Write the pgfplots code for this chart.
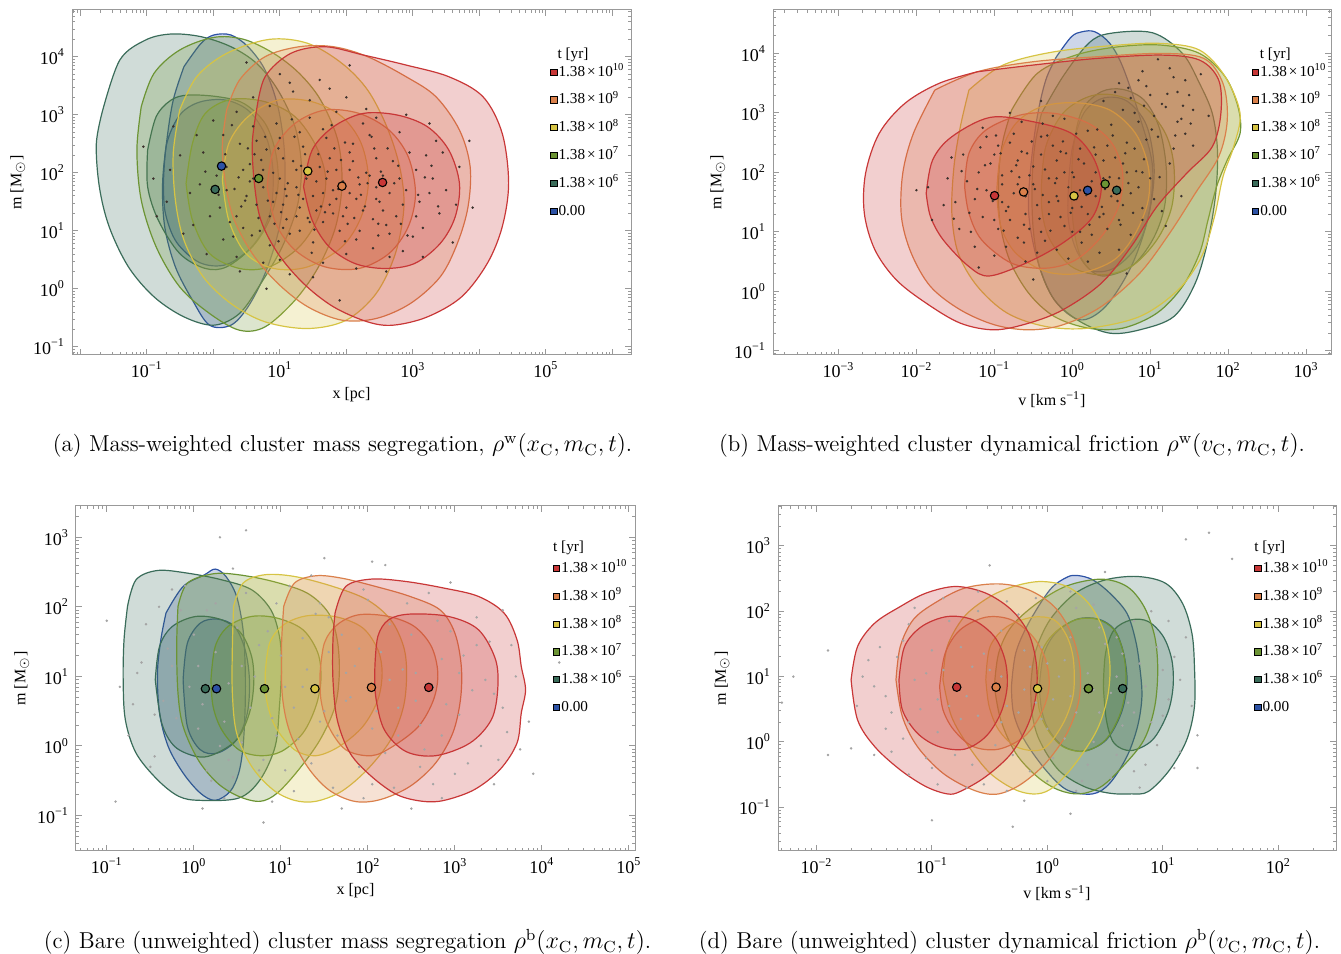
\documentclass[border=0pt]{standalone}
\usepackage{fontspec}
\usepackage{pgfplots}
\pgfplotsset{compat=1.18}
\newfontfamily\tnr{Liberation Serif}
\definecolor{cR}{RGB}{200,55,55}
\definecolor{cO}{RGB}{218,128,75}
\definecolor{cY}{RGB}{214,196,68}
\definecolor{cG}{RGB}{108,148,52}
\definecolor{cT}{RGB}{58,108,90}
\definecolor{cB}{RGB}{45,82,165}
\definecolor{dotA}{RGB}{60,50,45}
\definecolor{dotC}{RGB}{165,165,165}
\newcommand{\tp}[1]{10\textsuperscript{#1}}
\newcommand{\lt}[1]{1.38\kern1pt×\kern1pt10\textsuperscript{#1}}
\def\mlist{-3.699,-3.523,-3.398,-3.301,-3.222,-3.155,-3.097,-3.046,-2.699,-2.523,-2.398,-2.301,-2.222,-2.155,-2.097,-2.046,-1.699,-1.523,-1.398,-1.301,-1.222,-1.155,-1.097,-1.046,-0.699,-0.523,-0.398,-0.301,-0.222,-0.155,-0.097,-0.046,0.301,0.477,0.602,0.699,0.778,0.845,0.903,0.954,1.301,1.477,1.602,1.699,1.778,1.845,1.903,1.954,2.301,2.477,2.602,2.699,2.778,2.845,2.903,2.954,3.301,3.477,3.602,3.699,3.778,3.845,3.903,3.954,4.301,4.477,4.602,4.699,4.778,4.845,4.903,4.954,5.301,5.477,5.602,5.699,5.778,5.845,5.903,5.954}
\pgfplotsset{legend image code/.code={\fill[#1] (0pt,-1.55pt) rectangle (3.1pt,1.55pt);}}
\pgfplotsset{
  table/lg/.style={header=false,row sep=\\},
  cont/.style={smooth,tension=0.55,draw=#1,line width=0.6pt,fill=#1,fill opacity=0.24,forget plot},
  med/.style={only marks,mark=*,mark size=2.1pt,mark options={fill=#1,draw=black,line width=0.55pt},forget plot},
  dk/.style={only marks,mark=*,mark size=0.4pt,color=#1,mark options={draw=none,fill=#1},forget plot},
  panel/.style={scale only axis, clip=true,
    axis line style={draw=black!40, line width=0.5pt},
    major tick style={draw=black!40, line width=0.5pt},
    minor tick style={draw=black!40, line width=0.4pt},
    major tick length=3pt, minor tick length=1.5pt,
    minor xtick/.expand once=\mlist, minor ytick/.expand once=\mlist,
    tick label style={font=\tnr\fontsize{9}{10}\selectfont},
    label style={font=\tnr\fontsize{8}{10}\selectfont},
    legend style={draw=none, fill=none, inner sep=0pt, row sep=5.7pt, font=\tnr\fontsize{7.6}{9}\selectfont, nodes={inner sep=0.6pt, text height=5.5pt, text depth=1.5pt}, anchor=north west},
    legend cell align=left,
  },
}
\newcommand{\leg}{%
  \addlegendimage{fill=cR}\addlegendentry{\lt{10}}
  \addlegendimage{fill=cO}\addlegendentry{\lt{9}}
  \addlegendimage{fill=cY}\addlegendentry{\lt{8}}
  \addlegendimage{fill=cG}\addlegendentry{\lt{7}}
  \addlegendimage{fill=cT}\addlegendentry{\lt{6}}
  \addlegendimage{fill=cB}\addlegendentry{0.00}
}
\newcommand{\capf}{\fontsize{11.5}{13}\selectfont}
\newcommand{\ttl}{\tnr\fontsize{7.6}{9}\selectfont}
\begin{document}
\begin{tikzpicture}
\useasboundingbox (0,0) rectangle (670.5pt,477pt);
% ---------------- (a)
\begin{axis}[panel, at={(36pt,299.5pt)}, anchor=south west, width=279.5pt, height=172.5pt,
 xmin=-2.124, xmax=6.28, ymin=-1.14, ymax=4.805,
 xtick={-2,-1,0,1,2,3,4,5,6}, xticklabels={,\tp{−1},,\tp{1},,\tp{3},,\tp{5},},
 ytick={-1,0,1,2,3,4}, yticklabels={\tp{−1},\tp{0},\tp{1},\tp{2},\tp{3},\tp{4}},
 xlabel={x [pc]}, ylabel={m [M\textsubscript{$\odot$}]},
 xlabel style={at={(axis description cs:0.5,-0.116)},anchor=center},
 ylabel style={at={(axis description cs:-0.097,0.5)},anchor=center},
 legend style={at={(axis description cs:0.855,0.845)}}]
\addplot[cont=cB] table[lg]{-0.441 3.828\\ -0.184 4.230\\ 0.008 4.374\\ 0.265 4.374\\ 0.522 4.172\\ 0.779 3.770\\ 0.972 3.138\\ 1.068 2.391\\ 1.068 1.644\\ 0.972 0.954\\ 0.779 0.264\\ 0.522 -0.310\\ 0.265 -0.626\\ -0.056 -0.626\\ -0.313 -0.195\\ -0.570 0.379\\ -0.730 1.069\\ -0.762 1.816\\ -0.698 2.563\\ -0.602 3.253\\ -0.441 3.828\\};
\addplot[cont=cB] table[lg]{-0.75 1.8\\ -0.70 2.5\\ -0.50 3.0\\ -0.20 3.22\\ 0.20 3.25\\ 0.55 3.05\\ 0.80 2.6\\ 0.90 2.0\\ 0.85 1.3\\ 0.60 0.75\\ 0.20 0.42\\ -0.20 0.45\\ -0.55 0.8\\ -0.72 1.3\\ -0.75 1.8\\};
\addplot[cont=cT] table[lg]{-1.662 3.080\\ -1.405 3.943\\ -1.019 4.287\\ -0.634 4.391\\ -0.184 4.345\\ 0.265 4.172\\ 0.651 3.885\\ 0.972 3.425\\ 1.229 2.793\\ 1.325 2.103\\ 1.261 1.414\\ 1.036 0.724\\ 0.715 0.092\\ 0.394 -0.425\\ 0.008 -0.626\\ -0.441 -0.483\\ -0.891 -0.138\\ -1.276 0.379\\ -1.565 1.069\\ -1.713 1.759\\ -1.758 2.506\\ -1.662 3.080\\};
\addplot[cont=cT] table[lg]{-0.987 2.391\\ -0.859 2.966\\ -0.634 3.253\\ -0.377 3.339\\ 0.073 3.310\\ 0.458 3.195\\ 0.779 2.851\\ 0.940 2.333\\ 0.972 1.759\\ 0.843 1.184\\ 0.586 0.724\\ 0.201 0.379\\ -0.120 0.351\\ -0.505 0.609\\ -0.827 1.184\\ -0.987 1.759\\ -0.987 2.391\\};
\addplot[cont=cG] table[lg]{-1.083 3.138\\ -0.891 3.713\\ -0.505 4.115\\ 0.008 4.333\\ 0.458 4.299\\ 0.908 4.057\\ 1.293 3.713\\ 1.614 3.253\\ 1.871 2.563\\ 1.935 1.816\\ 1.839 1.069\\ 1.582 0.379\\ 1.229 -0.195\\ 0.779 -0.655\\ 0.394 -0.713\\ -0.056 -0.425\\ -0.505 0.034\\ -0.859 0.724\\ -1.083 1.529\\ -1.148 2.391\\ -1.083 3.138\\};
\addplot[cont=cG] table[lg]{-0.409 1.816\\ -0.313 2.506\\ -0.120 3.023\\ 0.265 3.264\\ 0.779 3.224\\ 1.229 2.966\\ 1.550 2.448\\ 1.691 1.874\\ 1.582 1.241\\ 1.293 0.724\\ 0.843 0.379\\ 0.394 0.351\\ -0.056 0.609\\ -0.313 1.184\\ -0.409 1.816\\};
\addplot[cont=cY] table[lg]{-0.505 3.080\\ -0.249 3.655\\ 0.201 4.057\\ 0.843 4.299\\ 1.421 4.230\\ 1.935 3.885\\ 2.321 3.425\\ 2.609 2.793\\ 2.802 2.103\\ 2.866 1.414\\ 2.738 0.609\\ 2.449 -0.080\\ 1.999 -0.540\\ 1.421 -0.684\\ 0.779 -0.569\\ 0.265 -0.253\\ -0.152 0.207\\ -0.441 0.839\\ -0.570 1.529\\ -0.602 2.333\\ -0.505 3.080\\};
\addplot[cont=cY] table[lg]{0.137 1.874\\ 0.233 2.506\\ 0.522 2.966\\ 0.972 3.253\\ 1.486 3.224\\ 1.935 2.966\\ 2.224 2.506\\ 2.333 1.874\\ 2.224 1.241\\ 1.935 0.724\\ 1.421 0.379\\ 0.908 0.351\\ 0.490 0.609\\ 0.233 1.184\\ 0.137 1.874\\};
\addplot[cont=cO] table[lg]{0.201 3.080\\ 0.394 3.598\\ 0.779 4.000\\ 1.293 4.172\\ 1.807 4.172\\ 2.321 4.000\\ 2.899 3.655\\ 3.348 3.310\\ 3.701 2.736\\ 3.862 2.103\\ 3.830 1.414\\ 3.669 0.782\\ 3.412 0.207\\ 2.963 -0.253\\ 2.449 -0.511\\ 1.935 -0.540\\ 1.421 -0.310\\ 0.972 0.092\\ 0.586 0.609\\ 0.297 1.241\\ 0.169 1.931\\ 0.137 2.506\\ 0.201 3.080\\};
\addplot[cont=cO] table[lg]{0.811 1.759\\ 0.908 2.391\\ 1.229 2.851\\ 1.678 3.080\\ 2.192 3.023\\ 2.642 2.736\\ 2.931 2.276\\ 3.040 1.644\\ 2.931 1.069\\ 2.642 0.609\\ 2.192 0.351\\ 1.678 0.379\\ 1.229 0.667\\ 0.940 1.126\\ 0.811 1.759\\};
\addplot[cont=cR] table[lg]{0.651 3.080\\ 0.779 3.655\\ 1.164 4.057\\ 1.678 4.172\\ 2.256 4.029\\ 2.899 3.856\\ 3.541 3.655\\ 4.055 3.310\\ 4.344 2.678\\ 4.440 1.816\\ 4.344 1.069\\ 4.119 0.437\\ 3.733 -0.138\\ 3.220 -0.483\\ 2.706 -0.626\\ 2.320 -0.569\\ 1.807 -0.310\\ 1.357 0.092\\ 0.972 0.609\\ 0.715 1.184\\ 0.618 1.816\\ 0.586 2.506\\ 0.651 3.080\\};
\addplot[cont=cR] table[lg]{1.357 1.759\\ 1.486 2.391\\ 1.807 2.793\\ 2.256 3.023\\ 2.770 2.994\\ 3.220 2.793\\ 3.541 2.391\\ 3.701 1.816\\ 3.637 1.241\\ 3.412 0.782\\ 3.027 0.437\\ 2.577 0.351\\ 2.128 0.437\\ 1.742 0.724\\ 1.486 1.184\\ 1.357 1.759\\};
\addplot[dk=dotA] table[lg]{0.2 2.1\\ 0.5 1.6\\ 0.8 2.4\\ 1.1 1.2\\ 1.4 1.9\\ 1.7 2.6\\ 2.0 1.4\\ 2.3 2.0\\ 2.6 1.1\\ 2.9 1.7\\ 3.2 2.3\\ 3.4 1.3\\ 0.3 0.9\\ 0.6 2.8\\ 0.9 1.5\\ 1.2 2.2\\ 1.5 0.8\\ 1.8 1.7\\ 2.1 2.5\\ 2.4 0.7\\ 2.7 2.2\\ 3.0 0.9\\ 3.3 1.9\\ 0.1 1.4\\ 0.4 2.5\\ 0.7 1.0\\ 1.0 1.9\\ 1.3 1.4\\ 1.6 2.1\\ 1.9 1.0\\ 2.2 1.8\\ 2.5 1.5\\ 2.8 2.7\\ 3.1 1.5\\ -0.2 1.8\\ -0.5 2.3\\ -0.3 1.1\\ -0.7 1.5\\ 0.0 2.9\\ 0.4 0.3\\ 1.0 0.5\\ 1.5 0.2\\ 2.0 0.6\\ 2.6 0.3\\ 3.5 1.7\\ 3.7 2.1\\ 3.6 0.8\\ 1.2 3.4\\ 1.6 3.6\\ 2.0 3.3\\ 1.0 3.7\\ 2.3 3.1\\ 0.6 3.3\\ 2.9 3.0\\ -0.1 0.6\\ 0.8 0.0\\ 1.9 -0.2\\ 1.3 2.7\\ 0.2 1.7\\ 1.1 1.6\\ 1.8 1.3\\ 2.4 1.2\\ 0.9 2.0\\ 1.5 1.6\\ 2.1 2.2\\ 2.8 1.9\\ -0.6 2.8\\ -0.9 1.9\\ 3.9 1.4\\ 0.5 3.9\\ 1.3 1.0\\ 1.7 1.9\\ 0.6 1.9\\ 2.2 1.0\\ 1.0 2.6\\
0.05 1.95\\ 0.35 1.25\\ 0.55 2.15\\ 0.75 1.75\\ 0.95 2.85\\ 1.15 0.95\\ 1.35 2.45\\ 1.55 1.35\\ 1.75 2.25\\ 1.95 1.85\\ 2.15 0.85\\ 2.35 2.65\\ 2.55 1.95\\ 2.75 1.25\\ 2.95 2.35\\ 3.15 1.05\\ 3.35 2.55\\ 0.15 2.65\\ 0.45 1.05\\ 0.65 1.45\\ 0.85 0.75\\ 1.05 2.25\\ 1.25 1.75\\ 1.45 2.95\\ 1.65 1.15\\ 1.85 2.05\\ 2.05 1.65\\ 2.25 2.85\\ 2.45 1.75\\ 2.65 0.95\\ 2.85 1.45\\ 3.05 2.05\\ 3.25 1.65\\ 0.25 1.15\\ 0.45 2.05\\ 0.65 2.55\\ 0.85 1.25\\ 1.05 1.05\\ 1.25 2.05\\ 1.45 1.15\\ 1.65 2.75\\ 1.85 1.55\\ 2.05 2.35\\ 2.25 1.35\\ 2.45 2.25\\ 2.65 1.65\\ 2.85 0.65\\ 3.05 1.25\\ -0.15 2.35\\ -0.35 1.65\\ -0.45 0.95\\ -0.25 2.65\\ -0.05 1.25\\ 0.15 0.85\\ 0.35 0.55\\ 0.75 0.45\\ 1.15 0.25\\ 1.65 0.45\\ 2.15 0.35\\ 2.65 0.55\\ 3.15 0.55\\ 3.45 2.35\\ 3.25 2.85\\ 0.85 3.15\\ 1.45 3.25\\ 1.85 3.05\\ 2.45 2.95\\ 0.35 3.05\\ 1.15 3.55\\ 1.75 3.45\\ 2.05 3.85\\ 0.95 1.65\\ 1.35 1.55\\ 1.75 1.45\\ 2.15 1.55\\ 2.55 1.35\\ 0.55 1.85\\ 1.05 1.45\\ 1.55 1.85\\ 1.95 1.25\\ 2.35 1.95\\ 0.75 2.05\\ 1.25 1.25\\ 1.65 1.65\\ 2.05 2.05\\ 2.45 1.55\\ -0.65 2.05\\ -0.85 1.25\\ -1.05 2.45\\ 3.65 1.45\\ 3.85 2.55\\
0.32 1.72\\ 0.62 2.32\\ 0.92 1.12\\ 1.22 2.62\\ 1.52 1.02\\ 1.82 2.42\\ 2.12 1.22\\ 2.42 2.42\\ 2.72 1.82\\ 0.42 1.42\\ 0.72 2.22\\ 1.02 1.32\\ 1.32 2.12\\ 1.62 1.42\\ 1.92 2.22\\ 2.22 1.62\\ 2.52 2.02\\ 2.82 1.12\\ 0.52 2.42\\ 0.82 1.52\\ 1.12 1.82\\ 1.42 1.22\\ 1.72 2.02\\ 2.02 1.12\\ 2.32 1.82\\ 2.62 2.42\\ 0.38 1.92\\ 0.68 1.22\\ 0.98 2.42\\ 1.28 1.62\\ 1.58 2.32\\ 1.88 1.72\\ 2.18 1.92\\ 2.48 1.12\\ 2.78 2.12\\ 0.48 1.52\\ 0.78 2.62\\ 1.08 1.72\\ 1.38 2.32\\ 1.68 1.32\\ 1.98 2.52\\ 2.28 1.42\\ 2.58 1.82\\ 3.08 1.62\\ 3.28 2.12\\ 0.18 2.32\\ 0.08 1.62\\ -0.12 2.02\\ 0.28 2.82\\ 1.18 2.92\\ 1.78 2.82\\ 2.38 2.62\\ 1.48 0.62\\ 1.98 0.82\\ 2.48 0.92\\ 0.98 0.82\\ 0.58 0.92\\ 3.38 1.42\\ 3.18 1.92\\ 2.92 0.92\\};
\addplot[med=cB] coordinates {(0.124,2.115)};
\addplot[med=cT] coordinates {(0.028,1.713)};
\addplot[med=cG] coordinates {(0.683,1.902)};
\addplot[med=cY] coordinates {(1.421,2.029)};
\addplot[med=cO] coordinates {(1.935,1.770)};
\addplot[med=cR] coordinates {(2.545,1.833)};
\leg
\node[anchor=west,inner sep=0pt,font=\ttl] at (axis description cs:0.868,0.870) {t [yr]};
\end{axis}
% ---------------- (b)
\begin{axis}[panel, at={(386.5pt,299.5pt)}, anchor=south west, width=279pt, height=172.5pt,
 xmin=-3.84, xmax=3.32, ymin=-1.07, ymax=4.73,
 xtick={-3,-2,-1,0,1,2,3}, xticklabels={\tp{−3},\tp{−2},\tp{−1},\tp{0},\tp{1},\tp{2},\tp{3}},
 ytick={-1,0,1,2,3,4}, yticklabels={\tp{−1},\tp{0},\tp{1},\tp{2},\tp{3},\tp{4}},
 xlabel={v [km s\textsuperscript{−1}]}, ylabel={m [M\textsubscript{$\odot$}]},
 xlabel style={at={(axis description cs:0.5,-0.13)},anchor=center},
 ylabel style={at={(axis description cs:-0.099,0.5)},anchor=center},
 legend style={at={(axis description cs:0.858,0.845)}}]
\addplot[cont=cB] table[lg]{-0.203 3.944\\ -0.011 4.280\\ 0.126 4.364\\ 0.290 4.364\\ 0.482 4.168\\ 0.647 3.776\\ 0.866 2.936\\ 1.030 2.096\\ 0.975 1.256\\ 0.756 0.417\\ 0.427 -0.255\\ 0.099 -0.479\\ -0.230 -0.143\\ -0.449 0.529\\ -0.559 1.312\\ -0.532 2.096\\ -0.449 2.936\\ -0.340 3.552\\ -0.203 3.944\\};
\addplot[cont=cB] table[lg]{-0.05 1.75\\ 0.0 2.4\\ 0.15 3.0\\ 0.4 3.25\\ 0.7 3.2\\ 0.95 2.8\\ 1.05 2.1\\ 1.0 1.4\\ 0.85 0.8\\ 0.55 0.4\\ 0.25 0.35\\ 0.05 0.7\\ -0.05 1.2\\ -0.05 1.75\\};
\addplot[cont=cT] table[lg]{-0.395 2.992\\ -0.121 3.608\\ 0.208 4.168\\ 0.482 4.336\\ 1.030 4.347\\ 1.414 4.000\\ 1.633 3.496\\ 1.797 2.992\\ 1.863 2.376\\ 1.841 1.648\\ 1.742 0.864\\ 1.578 0.137\\ 1.304 -0.423\\ 0.866 -0.647\\ 0.482 -0.703\\ 0.099 -0.507\\ -0.230 -0.143\\ -0.422 0.417\\ -0.504 1.088\\ -0.515 1.872\\ -0.477 2.488\\ -0.395 2.992\\};
\addplot[cont=cT] table[lg]{-0.011 1.760\\ 0.016 2.432\\ 0.126 3.048\\ 0.373 3.356\\ 0.647 3.395\\ 0.921 3.216\\ 1.112 2.768\\ 1.205 2.096\\ 1.184 1.424\\ 1.030 0.864\\ 0.756 0.417\\ 0.373 0.260\\ 0.126 0.529\\ 0.016 1.088\\ -0.011 1.760\\};
\addplot[cont=cG] table[lg]{-0.778 3.048\\ -0.449 3.664\\ 0.044 3.972\\ 0.592 4.112\\ 1.140 4.140\\ 1.633 4.000\\ 1.962 3.608\\ 2.126 3.104\\ 2.153 2.656\\ 1.989 2.208\\ 1.852 1.760\\ 1.742 1.200\\ 1.633 0.641\\ 1.414 0.081\\ 1.085 -0.367\\ 0.647 -0.619\\ 0.208 -0.619\\ -0.230 -0.423\\ -0.559 -0.031\\ -0.805 0.529\\ -0.932 1.200\\ -0.942 1.984\\ -0.888 2.544\\ -0.778 3.048\\};
\addplot[cont=cG] table[lg]{-0.395 1.760\\ -0.340 2.432\\ -0.121 2.992\\ 0.208 3.272\\ 0.537 3.300\\ 0.921 3.104\\ 1.195 2.656\\ 1.305 2.096\\ 1.277 1.424\\ 1.085 0.864\\ 0.756 0.417\\ 0.373 0.277\\ -0.011 0.417\\ -0.285 0.864\\ -0.384 1.312\\ -0.395 1.760\\};
\addplot[cont=cY] table[lg]{-1.326 3.384\\ -0.888 3.804\\ -0.230 4.028\\ 0.592 4.140\\ 1.140 4.168\\ 1.633 4.056\\ 1.962 3.608\\ 2.153 2.992\\ 2.071 2.432\\ 1.934 1.928\\ 1.825 1.256\\ 1.660 0.585\\ 1.359 0.025\\ 0.866 -0.423\\ 0.208 -0.619\\ -0.340 -0.591\\ -0.833 -0.367\\ -1.216 0.081\\ -1.463 0.641\\ -1.545 1.312\\ -1.518 2.096\\ -1.436 2.768\\ -1.326 3.384\\};
\addplot[cont=cY] table[lg]{-0.970 1.648\\ -0.915 2.320\\ -0.723 2.824\\ -0.395 3.104\\ 0.044 3.171\\ 0.482 3.048\\ 0.811 2.656\\ 0.975 2.096\\ 0.975 1.536\\ 0.811 0.976\\ 0.537 0.529\\ 0.099 0.305\\ -0.340 0.333\\ -0.723 0.641\\ -0.915 1.088\\ -0.970 1.648\\};
\addplot[cont=cO] table[lg]{-1.764 3.384\\ -1.216 3.692\\ -0.504 3.860\\ 0.318 3.944\\ 1.140 4.000\\ 1.688 3.916\\ 1.934 3.496\\ 1.989 2.880\\ 1.879 2.264\\ 1.578 1.648\\ 1.249 0.976\\ 0.866 0.305\\ 0.373 -0.255\\ -0.121 -0.563\\ -0.559 -0.647\\ -0.997 -0.563\\ -1.436 -0.311\\ -1.819 0.081\\ -2.066 0.641\\ -2.192 1.256\\ -2.175 1.984\\ -2.038 2.656\\ -1.764 3.384\\};
\addplot[cont=cO] table[lg]{-1.381 1.760\\ -1.326 2.320\\ -1.107 2.712\\ -0.668 2.964\\ -0.230 2.992\\ 0.208 2.824\\ 0.510 2.488\\ 0.647 1.984\\ 0.592 1.424\\ 0.373 0.920\\ 0.044 0.529\\ -0.340 0.389\\ -0.778 0.473\\ -1.162 0.864\\ -1.326 1.312\\ -1.381 1.760\\};
\addplot[cont=cR] table[lg]{-1.216 3.692\\ -0.504 3.804\\ 0.318 3.916\\ 1.140 3.972\\ 1.633 3.888\\ 1.879 3.552\\ 1.907 2.992\\ 1.797 2.432\\ 1.468 1.984\\ 1.085 1.424\\ 0.756 0.753\\ 0.373 0.137\\ -0.121 -0.311\\ -0.559 -0.535\\ -0.997 -0.647\\ -1.436 -0.535\\ -1.874 -0.199\\ -2.258 0.193\\ -2.532 0.697\\ -2.668 1.312\\ -2.652 1.984\\ -2.477 2.656\\ -2.148 3.160\\ -1.710 3.496\\ -1.216 3.692\\};
\addplot[cont=cR] table[lg]{-1.874 1.648\\ -1.792 2.208\\ -1.545 2.600\\ -1.052 2.925\\ -0.504 2.852\\ -0.011 2.656\\ 0.263 2.264\\ 0.373 1.760\\ 0.263 1.256\\ -0.066 0.864\\ -0.504 0.529\\ -1.052 0.260\\ -1.326 0.417\\ -1.655 0.864\\ -1.819 1.256\\ -1.874 1.648\\};
\addplot[dk=dotA] table[lg]{-1.5 1.5\\ -1.2 2.0\\ -1.0 1.2\\ -0.8 2.5\\ -0.6 1.7\\ -0.4 1.0\\ -0.2 2.2\\ 0.0 1.4\\ 0.2 2.7\\ 0.4 1.9\\ 0.6 1.2\\ 0.8 2.4\\ -1.3 1.0\\ -1.1 2.6\\ -0.9 1.8\\ -0.7 0.9\\ -0.5 2.1\\ -0.3 1.5\\ -0.1 2.9\\ 0.1 1.0\\ 0.3 2.3\\ 0.5 1.6\\ 0.7 2.0\\ 0.9 1.4\\ -1.4 2.3\\ -1.0 0.6\\ -0.6 0.5\\ -0.2 0.7\\ 0.2 0.5\\ 0.6 0.7\\ 1.0 1.9\\ 1.1 2.6\\ 1.2 3.1\\ 1.3 3.6\\ 1.0 3.3\\ 0.8 3.0\\ 1.4 2.9\\ 1.5 3.3\\ 0.6 3.5\\ 0.9 3.7\\ 1.1 3.9\\ 0.4 3.2\\ 1.3 2.4\\ -0.8 3.0\\ -0.4 3.2\\ -1.6 1.9\\ -1.8 1.2\\ 0.0 2.0\\ -0.3 1.9\\ -0.6 1.3\\ -0.9 1.5\\ 0.3 1.6\\ 0.1 2.4\\ -0.7 2.2\\ -0.1 1.1\\ 0.5 2.8\\ 0.7 0.3\\ -0.5 0.2\\ -1.2 0.4\\ 1.2 1.1\\ 1.4 1.6\\ -2.0 1.7\\ 0.9 2.0\\ -0.2 1.6\\ 0.4 1.3\\ -0.4 2.6\\
-1.25 1.55\\ -1.05 2.15\\ -0.85 1.35\\ -0.65 2.35\\ -0.45 1.45\\ -0.25 2.45\\ -0.05 1.75\\ 0.15 2.15\\ 0.35 1.25\\ 0.55 2.25\\ 0.75 1.65\\ 0.95 2.55\\ -1.15 1.25\\ -0.95 2.45\\ -0.75 1.65\\ -0.55 1.05\\ -0.35 2.05\\ -0.15 1.25\\ 0.05 2.65\\ 0.25 1.85\\ 0.45 1.05\\ 0.65 2.15\\ 0.85 1.75\\ -1.35 1.85\\ -1.15 2.75\\ -0.95 1.05\\ -0.75 2.65\\ -0.55 1.95\\ -0.35 0.85\\ -0.15 2.35\\ 0.05 1.55\\ 0.25 0.95\\ 0.45 2.45\\ 0.65 1.45\\ 0.85 2.85\\ 1.05 1.55\\ -1.45 1.05\\ -1.25 0.75\\ -0.85 0.75\\ -0.45 0.65\\ -0.05 0.55\\ 0.35 0.65\\ 0.75 0.95\\ 1.15 1.35\\ 1.25 2.15\\ 1.45 2.65\\ 1.55 3.05\\ 1.35 3.35\\ 1.15 3.15\\ 0.95 3.45\\ 0.75 3.25\\ 1.25 3.75\\ 1.45 3.55\\ 0.65 3.05\\ 1.05 2.95\\ 1.35 2.85\\ 0.85 3.55\\ 1.55 2.45\\ 0.55 3.35\\ -0.65 2.85\\ -0.25 2.95\\ -1.65 1.45\\ -1.85 1.75\\ -1.55 2.25\\ -0.9 1.95\\ -0.6 1.6\\ -0.3 1.3\\ 0.0 1.0\\ 0.3 2.0\\ -0.1 2.0\\ 0.2 1.3\\ -0.5 1.8\\ -0.8 1.2\\ -1.1 1.7\\ 0.6 1.9\\ 0.9 1.2\\ -0.2 1.9\\ 0.1 1.7\\ -0.4 2.3\\ -0.7 1.8\\ 0.4 2.2\\ 0.7 2.5\\ -1.0 2.3\\ 1.65 3.65\\ 1.75 2.95\\
-1.22 1.72\\ -0.92 2.32\\ -0.62 1.12\\ -0.32 2.62\\ -0.02 1.32\\ 0.28 2.42\\ 0.58 1.52\\ -1.12 2.12\\ -0.82 1.42\\ -0.52 2.52\\ -0.22 1.82\\ 0.08 2.22\\ 0.38 1.42\\ 0.68 2.32\\ -1.02 1.52\\ -0.72 2.12\\ -0.42 1.22\\ -0.12 2.52\\ 0.18 1.62\\ 0.48 1.92\\ 0.78 1.32\\ -1.32 1.32\\ -0.98 2.62\\ -0.68 1.92\\ -0.38 1.62\\ -0.08 2.32\\ 0.22 1.12\\ 0.52 2.62\\ -0.88 1.02\\ -0.58 2.32\\ -0.28 1.02\\ 0.02 1.92\\ 0.32 2.72\\ 0.62 1.12\\ -1.18 2.42\\ -0.48 1.72\\ -0.18 1.52\\ 0.12 1.42\\ 0.42 1.72\\ 0.72 1.82\\ -0.78 2.02\\ -0.38 2.82\\ 0.92 2.22\\ 1.02 2.72\\ 1.12 1.92\\ 0.82 2.02\\ -1.42 2.02\\ -1.52 1.22\\ -0.62 0.82\\ 0.12 0.82\\ 0.92 3.12\\ 1.22 3.32\\ 1.42 3.12\\ 0.72 3.42\\ 1.32 2.62\\ 1.52 2.82\\};
\addplot[med=cR] coordinates {(-0.997,1.609)};
\addplot[med=cO] coordinates {(-0.625,1.671)};
\addplot[med=cY] coordinates {(0.022,1.604)};
\addplot[med=cB] coordinates {(0.197,1.699)};
\addplot[med=cG] coordinates {(0.422,1.805)};
\addplot[med=cT] coordinates {(0.570,1.699)};
\leg
\node[anchor=west,inner sep=0pt,font=\ttl] at (axis description cs:0.872,0.870) {t [yr]};
\end{axis}
% ---------------- (c)
\begin{axis}[panel, at={(38pt,51.5pt)}, anchor=south west, width=279.5pt, height=172.5pt,
 xmin=-1.354, xmax=5.07, ymin=-1.51, ymax=3.45,
 xtick={-1,0,1,2,3,4,5}, xticklabels={\tp{−1},\tp{0},\tp{1},\tp{2},\tp{3},\tp{4},\tp{5}},
 ytick={-1,0,1,2,3}, yticklabels={\tp{−1},\tp{0},\tp{1},\tp{2},\tp{3}},
 xlabel={x [pc]}, ylabel={m [M\textsubscript{$\odot$}]},
 xlabel style={at={(axis description cs:0.5,-0.116)},anchor=center},
 ylabel style={at={(axis description cs:-0.097,0.5)},anchor=center},
 legend style={at={(axis description cs:0.853,0.844)}}]
\addplot[dk=dotC] table[lg]{-0.6 1.2\\ -0.4 2.0\\ -0.2 0.4\\ 0.0 1.6\\ 0.2 -0.5\\ 0.4 0.9\\ 0.6 2.2\\ 0.8 -0.2\\ 1.0 1.3\\ 1.2 0.1\\ 1.4 1.9\\ 1.6 -0.6\\ 1.8 0.7\\ 2.0 2.1\\ 2.2 -0.1\\ 2.4 1.1\\ 2.6 0.3\\ 2.8 1.8\\ 3.0 -0.4\\ 3.2 0.8\\ 3.4 1.5\\ 3.6 0.2\\ -0.5 -0.3\\ -0.1 2.3\\ 0.3 0.0\\ 0.7 1.0\\ 1.1 2.3\\ 1.5 0.5\\ 1.9 1.4\\ 2.3 -0.6\\ 2.7 2.2\\ 3.1 1.3\\ 3.5 -0.2\\ 0.1 0.6\\ 0.5 1.7\\ 0.9 0.4\\ 1.3 1.1\\ 1.7 1.6\\ 2.1 0.5\\ 2.5 1.6\\ 2.9 0.6\\ 3.3 0.0\\ -0.7 0.6\\ -0.3 1.4\\ 0.1 -0.9\\ 0.9 -0.8\\ 1.7 -0.9\\ 2.5 -0.9\\ 3.7 1.0\\ -1.0 1.8\\ 0.3 3.0\\ 0.6 3.1\\ 2.2 2.6\\ 4.2 1.2\\ -0.9 -0.8\\ 0.8 -1.1\\ 1.5 2.7\\ 3.9 -0.4\\ 1.9 -0.3\\ 0.4 -0.2\\ 2.6 -0.3\\
-0.75 0.15\\ -0.55 1.75\\ -0.35 0.65\\ -0.15 1.95\\ 0.05 0.25\\ 0.25 1.35\\ 0.45 -0.45\\ 0.65 0.55\\ 0.85 1.65\\ 1.05 -0.35\\ 1.25 0.85\\ 1.45 2.05\\ 1.65 0.15\\ 1.85 1.15\\ 2.05 -0.55\\ 2.25 0.95\\ 2.45 2.05\\ 2.65 -0.05\\ 2.85 1.25\\ 3.05 0.45\\ 3.25 1.85\\ 3.45 0.75\\ 3.65 1.45\\ 3.85 0.35\\ -0.65 1.05\\ -0.45 -0.15\\ -0.25 2.25\\ -0.05 0.85\\ 0.15 1.95\\ 0.35 0.35\\ 0.55 1.15\\ 0.75 -0.35\\ 0.95 2.05\\ 1.15 0.55\\ 1.35 -0.25\\ 1.55 1.35\\ 1.75 0.65\\ 1.95 2.25\\ 2.15 1.35\\ 2.35 0.15\\ 2.55 1.05\\ 2.75 -0.55\\ 2.95 1.65\\ 3.15 -0.25\\ 3.35 0.95\\ 3.55 1.95\\ -0.45 0.45\\ 0.05 1.15\\ 0.55 0.05\\ 1.05 0.85\\ 1.55 1.85\\ 2.05 0.25\\ 2.55 0.65\\ 3.05 1.05\\ 3.55 0.55\\ 0.25 2.05\\ 0.75 1.45\\ 1.25 1.55\\ 1.75 1.05\\ 2.25 1.75\\ 2.75 0.85\\ 3.25 1.45\\ -0.25 1.15\\ 0.35 -0.75\\ 1.15 -0.65\\ 1.95 -0.75\\ 2.85 -0.75\\ 3.45 -0.55\\ -0.85 0.85\\ 0.45 2.55\\ 1.35 2.45\\ 2.05 2.65\\ 2.95 2.35\\ 3.75 -0.05\\ 0.95 0.15\\ 1.45 0.35\\ 2.35 0.55\\ 2.85 0.15\\ 0.15 -0.35\\};
\addplot[cont=cB] table[lg]{-0.320 1.910\\ -0.123 2.293\\ 0.123 2.461\\ 0.246 2.543\\ 0.369 2.437\\ 0.492 2.150\\ 0.566 1.671\\ 0.590 1.144\\ 0.590 0.569\\ 0.566 -0.006\\ 0.516 -0.389\\ 0.418 -0.653\\ 0.246 -0.782\\ 0.074 -0.677\\ -0.123 -0.389\\ -0.295 -0.006\\ -0.394 0.473\\ -0.418 1.048\\ -0.379 1.527\\ -0.320 1.910\\};
\addplot[cont=cB] table[lg]{-0.123 0.952\\ -0.074 1.479\\ 0.074 1.766\\ 0.271 1.824\\ 0.467 1.719\\ 0.590 1.383\\ 0.639 0.952\\ 0.615 0.473\\ 0.492 0.090\\ 0.271 -0.102\\ 0.074 -0.054\\ -0.074 0.281\\ -0.123 0.952\\};
\addplot[cont=cT] table[lg]{-0.762 2.006\\ -0.664 2.389\\ -0.418 2.523\\ -0.074 2.485\\ 0.320 2.389\\ 0.664 2.246\\ 0.885 1.958\\ 0.984 1.575\\ 1.008 1.144\\ 0.984 0.569\\ 0.935 -0.006\\ 0.762 -0.485\\ 0.516 -0.749\\ 0.074 -0.782\\ -0.172 -0.725\\ -0.418 -0.485\\ -0.664 -0.102\\ -0.787 0.377\\ -0.812 0.952\\ -0.802 1.527\\ -0.762 2.006\\};
\addplot[cont=cT] table[lg]{-0.443 0.952\\ -0.394 1.431\\ -0.246 1.719\\ 0.025 1.862\\ 0.320 1.814\\ 0.541 1.623\\ 0.664 1.287\\ 0.689 0.904\\ 0.639 0.473\\ 0.492 0.090\\ 0.221 -0.126\\ 0.025 -0.150\\ -0.221 -0.006\\ -0.369 0.329\\ -0.443 0.952\\};
\addplot[cont=cG] table[lg]{-0.182 2.006\\ -0.074 2.341\\ 0.221 2.475\\ 0.516 2.461\\ 0.910 2.365\\ 1.303 2.198\\ 1.549 1.910\\ 1.648 1.527\\ 1.672 1.048\\ 1.623 0.569\\ 1.451 0.090\\ 1.205 -0.341\\ 0.959 -0.677\\ 0.762 -0.796\\ 0.516 -0.725\\ 0.271 -0.533\\ 0.049 -0.198\\ -0.123 0.281\\ -0.182 0.760\\ -0.197 1.431\\ -0.182 2.006\\};
\addplot[cont=cG] table[lg]{0.197 0.952\\ 0.246 1.431\\ 0.394 1.719\\ 0.664 1.862\\ 0.959 1.838\\ 1.254 1.671\\ 1.426 1.335\\ 1.461 0.952\\ 1.402 0.569\\ 1.254 0.186\\ 1.008 -0.078\\ 0.762 -0.140\\ 0.516 -0.054\\ 0.320 0.234\\ 0.221 0.569\\ 0.197 0.952\\};
\addplot[cont=cY] table[lg]{0.457 2.006\\ 0.566 2.341\\ 0.812 2.461\\ 1.156 2.437\\ 1.599 2.293\\ 1.992 2.102\\ 2.263 1.814\\ 2.410 1.431\\ 2.445 1.048\\ 2.410 0.569\\ 2.263 0.090\\ 1.992 -0.341\\ 1.697 -0.653\\ 1.402 -0.796\\ 1.156 -0.782\\ 0.910 -0.629\\ 0.664 -0.293\\ 0.492 0.186\\ 0.443 0.760\\ 0.443 1.431\\ 0.457 2.006\\};
\addplot[cont=cY] table[lg]{0.821 1.048\\ 0.871 1.479\\ 1.033 1.743\\ 1.303 1.872\\ 1.648 1.853\\ 1.943 1.695\\ 2.115 1.383\\ 2.164 1.048\\ 2.115 0.665\\ 1.943 0.281\\ 1.672 -0.006\\ 1.402 -0.140\\ 1.156 -0.054\\ 0.935 0.281\\ 0.836 0.665\\ 0.821 1.048\\};
\addplot[cont=cO] table[lg]{1.033 2.006\\ 1.156 2.341\\ 1.402 2.447\\ 1.697 2.413\\ 2.090 2.293\\ 2.484 2.150\\ 2.828 1.958\\ 3.000 1.623\\ 3.074 1.144\\ 3.064 0.665\\ 2.976 0.186\\ 2.779 -0.245\\ 2.484 -0.581\\ 2.140 -0.772\\ 1.845 -0.796\\ 1.549 -0.629\\ 1.303 -0.293\\ 1.107 0.186\\ 1.018 0.713\\ 1.008 1.431\\ 1.033 2.006\\};
\addplot[cont=cO] table[lg]{1.451 1.048\\ 1.500 1.479\\ 1.648 1.743\\ 1.894 1.886\\ 2.238 1.862\\ 2.533 1.719\\ 2.730 1.431\\ 2.804 1.048\\ 2.755 0.665\\ 2.582 0.281\\ 2.287 -0.006\\ 2.041 -0.140\\ 1.746 -0.054\\ 1.549 0.281\\ 1.461 0.665\\ 1.451 1.048\\};
\addplot[cont=cR] table[lg]{1.623 1.910\\ 1.746 2.293\\ 2.041 2.399\\ 2.435 2.365\\ 2.878 2.269\\ 3.271 2.150\\ 3.566 1.910\\ 3.714 1.527\\ 3.763 1.144\\ 3.812 0.808\\ 3.763 0.473\\ 3.714 0.042\\ 3.517 -0.341\\ 3.222 -0.629\\ 2.878 -0.782\\ 2.632 -0.796\\ 2.336 -0.701\\ 2.041 -0.437\\ 1.795 -0.102\\ 1.648 0.377\\ 1.599 0.952\\ 1.599 1.527\\ 1.623 1.910\\};
\addplot[cont=cR] table[lg]{2.081 1.144\\ 2.115 1.575\\ 2.238 1.814\\ 2.484 1.896\\ 2.927 1.862\\ 3.271 1.671\\ 3.468 1.240\\ 3.492 0.808\\ 3.419 0.377\\ 3.173 0.042\\ 2.779 -0.140\\ 2.435 -0.078\\ 2.189 0.234\\ 2.090 0.713\\ 2.081 1.144\\};
\addplot[med=cT] coordinates {(0.133,0.823)};
\addplot[med=cB] coordinates {(0.261,0.823)};
\addplot[med=cG] coordinates {(0.812,0.823)};
\addplot[med=cY] coordinates {(1.392,0.823)};
\addplot[med=cO] coordinates {(2.041,0.842)};
\addplot[med=cR] coordinates {(2.700,0.842)};
\leg
\node[anchor=west,inner sep=0pt,font=\ttl] at (axis description cs:0.853,0.878) {t [yr]};
\end{axis}
% ---------------- (d)
\begin{axis}[panel, at={(389pt,51.5pt)}, anchor=south west, width=279pt, height=172.5pt,
 xmin=-2.333, xmax=2.5, ymin=-1.67, ymax=3.61,
 xtick={-2,-1,0,1,2}, xticklabels={\tp{−2},\tp{−1},\tp{0},\tp{1},\tp{2}},
 ytick={-1,0,1,2,3}, yticklabels={\tp{−1},\tp{0},\tp{1},\tp{2},\tp{3}},
 xlabel={v [km s\textsuperscript{−1}]}, ylabel={m [M\textsubscript{$\odot$}]},
 xlabel style={at={(axis description cs:0.5,-0.122)},anchor=center},
 ylabel style={at={(axis description cs:-0.1,0.5)},anchor=center},
 legend style={at={(axis description cs:0.853,0.844)}}]
\addplot[dk=dotC] table[lg]{-1.6 1.0\\ -1.4 0.2\\ -1.2 1.8\\ -1.0 -0.4\\ -0.8 0.9\\ -0.6 2.0\\ -0.4 0.3\\ -0.2 1.4\\ 0.0 -0.6\\ 0.2 0.7\\ 0.4 2.1\\ 0.6 -0.2\\ 0.8 1.2\\ 1.0 0.4\\ 1.2 1.6\\ -1.5 -0.2\\ -1.3 1.3\\ -1.1 0.5\\ -0.9 2.2\\ -0.7 -0.7\\ -0.5 1.1\\ -0.3 -0.2\\ -0.1 2.2\\ 0.1 1.0\\ 0.3 -0.6\\ 0.5 1.5\\ 0.7 0.6\\ 0.9 2.0\\ 1.1 -0.4\\ -1.4 0.7\\ -1.0 1.4\\ -0.6 0.4\\ -0.2 0.8\\ 0.2 1.6\\ 0.6 1.0\\ 1.0 1.1\\ -0.8 -0.2\\ 0.0 0.2\\ 0.4 0.0\\ -1.2 -0.5\\ -0.4 1.7\\ 0.8 -0.7\\ 1.3 0.1\\ -2.2 1.0\\ -2.3 0.6\\ -1.9 1.4\\ 1.6 2.8\\ 1.4 3.2\\ 1.2 3.1\\ 0.5 2.6\\ -0.5 2.7\\ 1.9 0.5\\ -1.0 -1.2\\ -0.3 -1.3\\ 0.2 -1.1\\ -1.9 -0.2\\
-1.65 0.55\\ -1.45 1.45\\ -1.25 0.05\\ -1.05 1.05\\ -0.85 1.85\\ -0.65 -0.35\\ -0.45 0.85\\ -0.25 1.95\\ -0.05 0.35\\ 0.15 1.25\\ 0.35 -0.35\\ 0.55 0.75\\ 0.75 1.85\\ 0.95 -0.05\\ 1.15 0.95\\ -1.55 1.25\\ -1.35 -0.15\\ -1.15 0.95\\ -0.95 0.15\\ -0.75 1.45\\ -0.55 -0.65\\ -0.35 0.55\\ -0.15 1.15\\ 0.05 -0.25\\ 0.25 0.45\\ 0.45 1.75\\ 0.65 0.25\\ 0.85 0.85\\ 1.05 1.85\\ 1.25 0.55\\ -1.35 0.45\\ -1.15 2.05\\ -0.95 0.65\\ -0.75 0.35\\ -0.55 1.35\\ -0.35 2.15\\ -0.15 -0.45\\ 0.05 0.65\\ 0.25 2.05\\ 0.45 0.45\\ 0.65 1.35\\ 0.85 -0.35\\ 1.05 0.65\\ -1.25 1.55\\ -1.05 -0.25\\ -0.85 0.55\\ -0.65 1.15\\ -0.45 -0.05\\ -0.25 0.45\\ -0.05 1.45\\ 0.15 0.05\\ 0.35 1.05\\ 0.55 -0.55\\ 0.75 0.45\\ 0.95 1.45\\ 1.15 -0.15\\ -0.95 -0.65\\ -0.35 -0.75\\ 0.25 -0.75\\ 0.75 -0.45\\ -1.5 0.85\\ -0.7 0.7\\ 0.0 1.2\\ 0.6 1.6\\ -0.4 1.0\\ 0.4 0.8\\ -0.1 0.6\\ -0.9 1.1\\ 0.9 0.3\\ -1.2 0.3\\ 1.1 1.3\\ -0.6 2.3\\ 0.2 2.3\\ -1.7 -0.1\\ 1.3 -0.4\\ -0.2 -0.9\\};
\addplot[cont=cB] table[lg]{-0.311 0.847\\ -0.274 1.357\\ -0.163 1.816\\ 0.022 2.327\\ 0.170 2.520\\ 0.263 2.546\\ 0.393 2.480\\ 0.541 2.276\\ 0.689 1.969\\ 0.763 1.561\\ 0.800 1.153\\ 0.819 0.694\\ 0.781 0.235\\ 0.689 -0.224\\ 0.541 -0.633\\ 0.393 -0.796\\ 0.170 -0.735\\ -0.015 -0.429\\ -0.200 0.031\\ -0.293 0.439\\ -0.311 0.847\\};
\addplot[cont=cB] table[lg]{-0.07 0.85\\ -0.03 1.35\\ 0.08 1.68\\ 0.26 1.88\\ 0.44 1.88\\ 0.58 1.72\\ 0.66 1.36\\ 0.69 0.90\\ 0.64 0.44\\ 0.51 0.03\\ 0.32 -0.14\\ 0.14 -0.07\\ 0.01 0.19\\ -0.05 0.49\\ -0.07 0.85\\};
\addplot[cont=cT] table[lg]{-0.144 0.847\\ -0.107 1.357\\ 0.022 1.867\\ 0.244 2.276\\ 0.504 2.480\\ 0.781 2.531\\ 1.022 2.429\\ 1.170 2.122\\ 1.252 1.663\\ 1.274 1.153\\ 1.274 0.541\\ 1.207 0.031\\ 1.059 -0.429\\ 0.874 -0.760\\ 0.726 -0.796\\ 0.541 -0.786\\ 0.319 -0.684\\ 0.096 -0.429\\ -0.070 0.031\\ -0.133 0.439\\ -0.144 0.847\\};
\addplot[cont=cT] table[lg]{0.485 0.847\\ 0.504 1.357\\ 0.578 1.714\\ 0.726 1.867\\ 0.874 1.842\\ 1.004 1.612\\ 1.078 1.255\\ 1.089 0.847\\ 1.041 0.439\\ 0.911 0.031\\ 0.726 -0.133\\ 0.578 -0.020\\ 0.511 0.337\\ 0.485 0.847\\};
\addplot[cont=cG] table[lg]{-0.459 0.847\\ -0.422 1.357\\ -0.311 1.765\\ -0.089 2.122\\ 0.170 2.388\\ 0.467 2.490\\ 0.689 2.378\\ 0.837 2.071\\ 0.930 1.612\\ 0.956 1.102\\ 0.930 0.541\\ 0.837 0.031\\ 0.652 -0.378\\ 0.467 -0.684\\ 0.281 -0.796\\ 0.096 -0.735\\ -0.089 -0.531\\ -0.274 -0.173\\ -0.404 0.337\\ -0.459 0.847\\};
\addplot[cont=cG] table[lg]{-0.089 0.847\\ -0.052 1.357\\ 0.059 1.663\\ 0.244 1.867\\ 0.430 1.878\\ 0.578 1.714\\ 0.659 1.357\\ 0.681 0.898\\ 0.633 0.439\\ 0.504 0.031\\ 0.319 -0.143\\ 0.133 -0.071\\ 0.004 0.184\\ -0.070 0.490\\ -0.089 0.847\\};
\addplot[cont=cY] table[lg]{-0.904 0.949\\ -0.867 1.459\\ -0.719 1.918\\ -0.496 2.224\\ -0.274 2.388\\ -0.052 2.454\\ 0.170 2.378\\ 0.356 2.122\\ 0.485 1.714\\ 0.541 1.204\\ 0.522 0.694\\ 0.430 0.184\\ 0.244 -0.327\\ 0.059 -0.684\\ -0.089 -0.796\\ -0.274 -0.735\\ -0.496 -0.480\\ -0.681 -0.071\\ -0.830 0.388\\ -0.904 0.949\\};
\addplot[cont=cY] table[lg]{-0.533 0.949\\ -0.496 1.459\\ -0.348 1.765\\ -0.126 1.908\\ 0.059 1.867\\ 0.170 1.612\\ 0.226 1.255\\ 0.226 0.745\\ 0.152 0.337\\ 0.022 -0.020\\ -0.089 -0.133\\ -0.274 -0.071\\ -0.422 0.184\\ -0.504 0.541\\ -0.533 0.949\\};
\addplot[cont=cO] table[lg]{-1.311 0.949\\ -1.274 1.459\\ -1.163 1.867\\ -0.978 2.122\\ -0.719 2.352\\ -0.422 2.418\\ -0.163 2.327\\ 0.059 2.071\\ 0.207 1.663\\ 0.281 1.153\\ 0.274 0.643\\ 0.170 0.133\\ -0.015 -0.327\\ -0.237 -0.658\\ -0.441 -0.801\\ -0.644 -0.735\\ -0.904 -0.480\\ -1.126 -0.071\\ -1.256 0.388\\ -1.311 0.949\\};
\addplot[cont=cO] table[lg]{-0.933 0.847\\ -0.885 1.357\\ -0.756 1.714\\ -0.533 1.908\\ -0.311 1.867\\ -0.126 1.612\\ -0.015 1.255\\ 0.015 0.847\\ -0.052 0.439\\ -0.200 0.082\\ -0.422 -0.112\\ -0.644 -0.071\\ -0.811 0.184\\ -0.904 0.490\\ -0.933 0.847\\};
\addplot[cont=cR] table[lg]{-1.700 0.949\\ -1.644 1.459\\ -1.496 1.816\\ -1.274 2.071\\ -1.052 2.276\\ -0.793 2.378\\ -0.533 2.276\\ -0.311 2.020\\ -0.163 1.663\\ -0.096 1.204\\ -0.096 0.745\\ -0.163 0.286\\ -0.311 -0.173\\ -0.533 -0.531\\ -0.756 -0.760\\ -0.867 -0.796\\ -1.052 -0.684\\ -1.274 -0.429\\ -1.496 -0.071\\ -1.644 0.337\\ -1.700 0.949\\};
\addplot[cont=cR] table[lg]{-1.285 0.949\\ -1.237 1.459\\ -1.089 1.765\\ -0.867 1.918\\ -0.644 1.867\\ -0.459 1.612\\ -0.367 1.255\\ -0.348 0.847\\ -0.404 0.439\\ -0.533 0.082\\ -0.719 -0.112\\ -0.941 -0.071\\ -1.126 0.133\\ -1.256 0.490\\ -1.285 0.949\\};
\addplot[med=cR] coordinates {(-0.785,0.837)};
\addplot[med=cO] coordinates {(-0.444,0.837)};
\addplot[med=cY] coordinates {(-0.085,0.816)};
\addplot[med=cB] coordinates {(0.356,0.816)};
\addplot[med=cG] coordinates {(0.356,0.816)};
\addplot[med=cT] coordinates {(0.652,0.816)};
\leg
\node[anchor=west,inner sep=0pt,font=\ttl] at (axis description cs:0.853,0.878) {t [yr]};
\end{axis}
% captions
\node[font=\capf] at (171.25pt,254pt) {(a) Mass-weighted cluster mass segregation, $\rho^{\mathrm{w}}(x_{\mathrm{C}},m_{\mathrm{C}},t)$.};
\node[font=\capf] at (506pt,254pt) {(b) Mass-weighted cluster dynamical friction $\rho^{\mathrm{w}}(v_{\mathrm{C}},m_{\mathrm{C}},t)$.};
\node[font=\capf] at (173.75pt,6pt) {(c) Bare (unweighted) cluster mass segregation $\rho^{\mathrm{b}}(x_{\mathrm{C}},m_{\mathrm{C}},t)$.};
\node[font=\capf] at (504.75pt,6pt) {(d) Bare (unweighted) cluster dynamical friction $\rho^{\mathrm{b}}(v_{\mathrm{C}},m_{\mathrm{C}},t)$.};
\end{tikzpicture}
\end{document}
